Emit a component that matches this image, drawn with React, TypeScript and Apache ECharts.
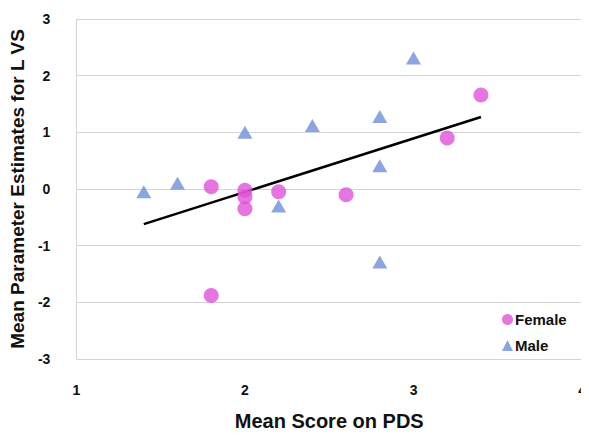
import React, { useEffect, useRef } from "react";
import * as echarts from "echarts";

const femaleX = [1.8, 2.0, 2.0, 2.0, 2.2, 2.6, 3.2, 3.4, 1.8];
const femaleY = [0.04, -0.02, -0.14, -0.35, -0.05, -0.1, 0.9, 1.66, -1.88];
const maleX = [1.4, 1.6, 2.0, 2.2, 2.4, 2.8, 2.8, 2.8, 3.0];
const maleY = [-0.05, 0.1, 1.0, -0.3, 1.12, 1.28, 0.41, -1.29, 2.31];
const trendX = [1.4, 3.4];
const trendY = [-0.62, 1.27];

const FONT = "'Liberation Sans', Arial, sans-serif";

export default function App() {
  const ref = useRef<HTMLDivElement>(null);
  useEffect(() => {
    if (!ref.current) return;
    const chart = echarts.init(ref.current, undefined, { renderer: "svg" });
    const zip = (xs: number[], ys: number[]) => xs.map((x, i) => [x, ys[i]]);
    chart.setOption({
      animation: false,
      textStyle: { fontFamily: FONT },
      grid: { left: 72, right: 6, top: 19, bottom: 68 },
      xAxis: {
        type: "value",
        min: 1,
        max: 4,
        interval: 1,
        name: "Mean Score on PDS",
        nameLocation: "middle",
        nameGap: 52,
        nameTextStyle: { fontFamily: FONT, fontWeight: "bold", fontSize: 20, color: "#111" },
        axisLine: { show: false },
        axisTick: { show: false },
        splitLine: { show: false },
        axisLabel: { fontFamily: FONT, fontWeight: "bold", fontSize: 14, color: "#111", margin: 24 },
      },
      yAxis: {
        type: "value",
        min: -3,
        max: 3,
        interval: 1,
        name: "Mean Parameter Estimates for L VS",
        nameLocation: "middle",
        nameGap: 38,
        nameTextStyle: { fontFamily: FONT, fontWeight: "bold", fontSize: 19, color: "#111" },
        axisLine: { show: true, lineStyle: { color: "#d4d4d4", width: 1 } },
        axisTick: { show: false },
        splitLine: { show: true, lineStyle: { color: "#d4d4d4", width: 1 } },
        axisLabel: { fontFamily: FONT, fontWeight: "bold", fontSize: 14, color: "#111", margin: 26 },
      },
      legend: {
        data: ["Female", "Male"],
        orient: "vertical",
        left: 497,
        top: 307,
        itemWidth: 11,
        itemHeight: 11,
        itemGap: 11,
        textStyle: { fontFamily: FONT, fontWeight: "bold", fontSize: 15, color: "#111", padding: [0, 0, 0, -3] },
      },
      series: [
        {
          name: "Trend",
          type: "line",
          data: zip(trendX, trendY),
          symbol: "none",
          lineStyle: { color: "#000", width: 2.5 },
          z: 1,
        },
        {
          name: "Female",
          type: "scatter",
          data: zip(femaleX, femaleY),
          symbol: "circle",
          symbolSize: 15,
          itemStyle: { color: "#E052D9" },
          z: 3,
        },
        {
          name: "Male",
          type: "scatter",
          data: zip(maleX, maleY),
          symbol: "triangle",
          symbolSize: [15, 13],
          itemStyle: { color: "#6E8FDB" },
          z: 2,
        },
      ],
    });
    return () => chart.dispose();
  }, []);
  return <div ref={ref} style={{ width: 589, height: 436, margin: -8 }} />;
}
